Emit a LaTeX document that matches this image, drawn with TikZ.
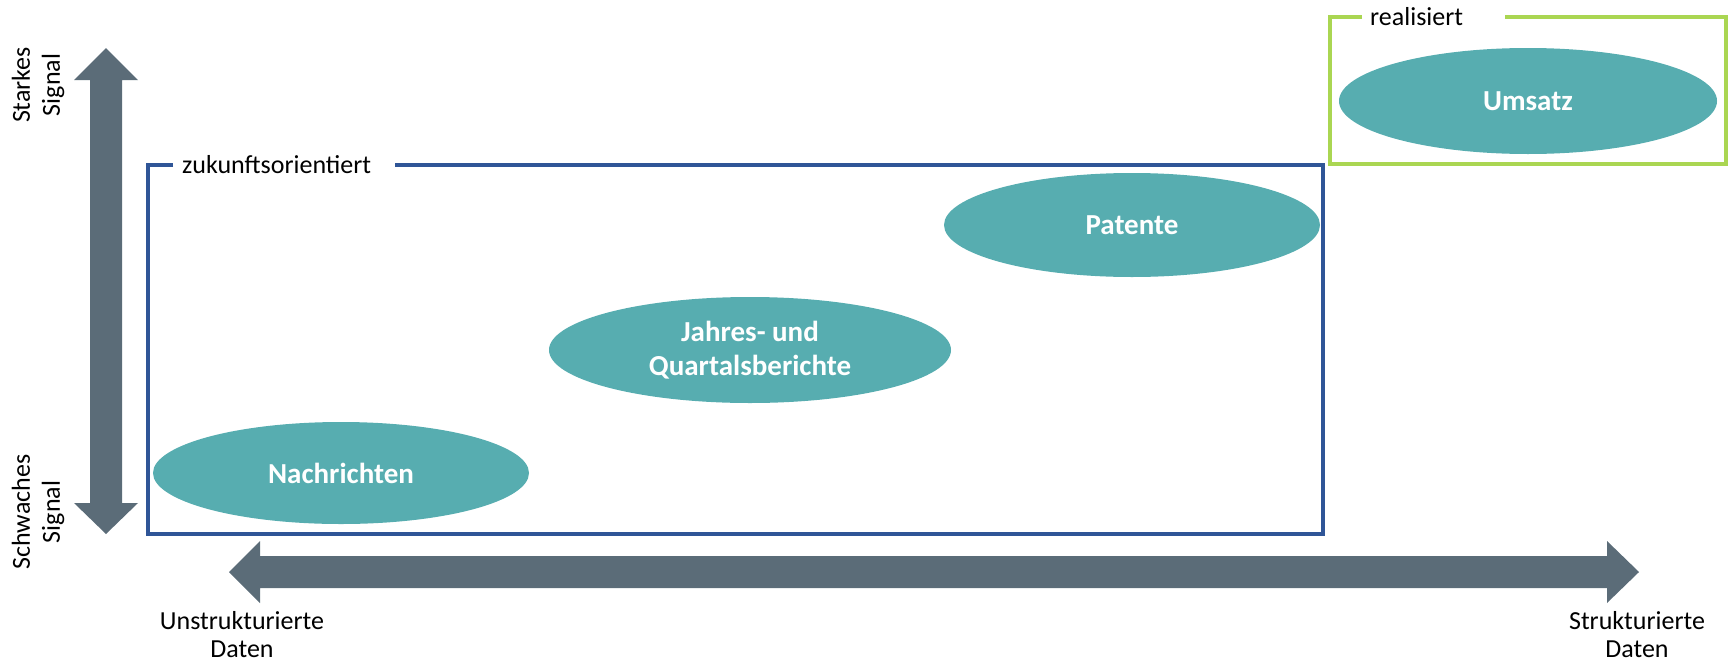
\documentclass[tikz,border=0pt]{standalone}
\usepackage{fontspec}
\setmainfont{Carlito}
\usetikzlibrary{shapes.geometric}

\definecolor{clusterteal}{RGB}{87,173,176}
\definecolor{frameblue}{RGB}{47,85,151}
\definecolor{framegreen}{RGB}{170,214,82}
\definecolor{axisgray}{RGB}{91,108,120}

\begin{document}
\begin{tikzpicture}[x=1pt, y=-1pt,
        cluster/.style={ellipse, fill=clusterteal, text=white, inner sep=0pt, align=center,
            font=\fontsize{29}{34}\selectfont\bfseries},
        axislabel/.style={inner sep=0pt, align=center, font=\fontsize{26}{30}\selectfont}]
        \useasboundingbox (0,0) rectangle (1731,664);

        % axes
        \fill[axisgray] (106,48) -- (138,80) -- (122,80) -- (122,503) -- (138,503) -- (106,534)
            -- (74,503) -- (90,503) -- (90,80) -- (74,80) -- cycle;
        \fill[axisgray] (229,572) -- (260,541) -- (260,556) -- (1607,556) -- (1607,541) -- (1639,572)
            -- (1607,603) -- (1607,588) -- (260,588) -- (260,603) -- cycle;

        \node[axislabel, rotate=90] (stark) at (38,85) {Starkes\\Signal};
        \node[axislabel, rotate=90] (schwach) at (38,512) {Schwaches\\Signal};
        \node[axislabel, anchor=north, font=\fontsize{26}{28}\selectfont] (unstrukturiert) at (242,611) {Unstrukturierte\\Daten};
        \node[axislabel, anchor=north, font=\fontsize{26}{28}\selectfont] (strukturiert) at (1637,611) {Strukturierte\\Daten};

        % frames
        \node[axislabel, anchor=base west] (zukunft) at (182,173) {zukunftsorientiert};
        \draw[frameblue, line width=4pt] (173,165) -- (148,165) -- (148,534) -- (1323,534)
            -- (1323,165) -- (395,165);

        \node[axislabel, anchor=base west] (realisiert) at (1370,25) {realisiert};
        \draw[framegreen, line width=4pt] (1362,17) -- (1330,17) -- (1330,164) -- (1726,164)
            -- (1726,17) -- (1505,17);

        % data sources
        \node[cluster, minimum width=376, minimum height=102] (nachrichten) at (341,473) {Nachrichten};
        \node[cluster, minimum width=402, minimum height=106] (berichte) at (750,350) {Jahres- und\\Quartalsberichte};
        \node[cluster, minimum width=376, minimum height=104] (patente) at (1132,225) {Patente};
        \node[cluster, minimum width=378, minimum height=106] (umsatz) at (1528,101) {Umsatz};
    \end{tikzpicture}
\end{document}
